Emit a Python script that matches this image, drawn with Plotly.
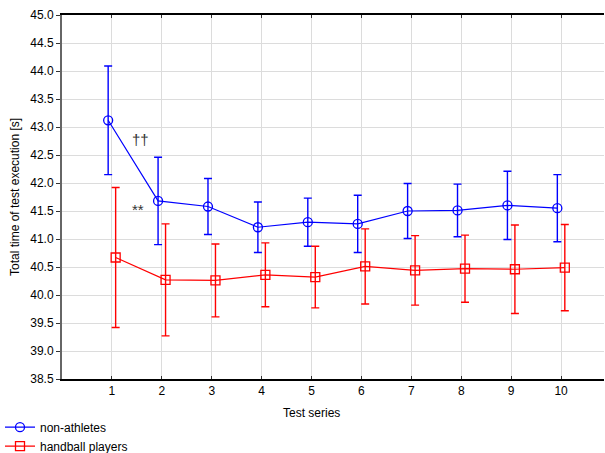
import plotly.graph_objects as go

series = list(range(1, 11))
tick_labels = [str(s) for s in series]

non_athletes_mean = [43.12, 41.68, 41.58, 41.21, 41.30, 41.27, 41.50, 41.51, 41.60, 41.55]
non_athletes_err = [0.97, 0.78, 0.50, 0.45, 0.43, 0.51, 0.49, 0.47, 0.61, 0.60]

handball_mean = [40.67, 40.27, 40.26, 40.36, 40.32, 40.51, 40.44, 40.47, 40.46, 40.49]
handball_err = [1.25, 1.00, 0.65, 0.57, 0.55, 0.67, 0.62, 0.60, 0.79, 0.77]

x_title = "Test series"
y_title = "Total time of test execution [s]"

offset = 0.075
font = "Liberation Sans, Arial, sans-serif"
W, H = 605, 453
ml, mr, mt, mb = 62, 1, 15, 74

fig = go.Figure()
fig.add_trace(go.Scatter(
    x=[s - offset for s in series], y=non_athletes_mean,
    mode="lines+markers", name="non-athletes",
    line=dict(color="#0000ff", width=1.2),
    marker=dict(symbol="circle-open", size=9, color="#0000ff", line=dict(width=1.3)),
    error_y=dict(type="data", array=non_athletes_err, visible=True,
                 color="#0000ff", thickness=1.4, width=4),
))
fig.add_trace(go.Scatter(
    x=[s + offset for s in series], y=handball_mean,
    mode="lines+markers", name="handball players",
    line=dict(color="#ff0000", width=1.2),
    marker=dict(symbol="square-open", size=9, color="#ff0000", line=dict(width=1.3)),
    error_y=dict(type="data", array=handball_err, visible=True,
                 color="#ff0000", thickness=1.4, width=4),
))

fig.add_annotation(x=1.58, y=42.77, text="††", showarrow=False,
                   font=dict(family=font, size=15, color="#333333"))
fig.add_annotation(x=1.52, y=41.52, text="**", showarrow=False,
                   font=dict(family=font, size=15, color="#333333"))

# axis titles as paper annotations
pw, ph = W - ml - mr, H - mt - mb
fig.add_annotation(xref="paper", yref="paper",
                   x=(311 - ml) / pw, y=-(413 - (H - mb)) / ph,
                   text=x_title, showarrow=False, xanchor="center", yanchor="middle",
                   font=dict(family=font, size=12, color="#000000"))
fig.add_annotation(xref="paper", yref="paper",
                   x=-(ml - 15) / pw, y=((H - mb) - 197) / ph,
                   text=y_title, textangle=-90, showarrow=False,
                   xanchor="center", yanchor="middle",
                   font=dict(family=font, size=12, color="#000000"))

fig.update_layout(
    width=W, height=H,
    margin=dict(l=ml, r=mr, t=mt, b=mb, autoexpand=False),
    paper_bgcolor="white", plot_bgcolor="white",
    font=dict(family=font, size=12, color="#000000"),
    showlegend=True,
    legend=dict(xref="container", yref="container", x=0, y=0.089,
                xanchor="left", yanchor="top",
                bgcolor="rgba(0,0,0,0)", font=dict(size=12),
                tracegroupgap=0, borderwidth=0),
    xaxis=dict(
        range=[0, 10.86], tickvals=series, ticktext=tick_labels,
        showgrid=True, gridcolor="#dcdcdc", gridwidth=1,
        showline=True, linecolor="#000000", linewidth=1.5, mirror="ticks",
        ticks="inside", ticklen=3, tickcolor="#333333",
        zeroline=False, automargin=False,
    ),
    yaxis=dict(
        range=[38.5, 45.0], dtick=0.5, tick0=38.5, tickformat=".1f",
        showgrid=True, gridcolor="#dcdcdc", gridwidth=1,
        showline=True, linecolor="#666666", linewidth=2,
        ticks="outside", ticklen=4, tickcolor="#333333",
        zeroline=False, automargin=False,
    ),
)

fig.write_html("out.html", config={"displayModeBar": False},
               post_script="document.body.style.margin='0';")
